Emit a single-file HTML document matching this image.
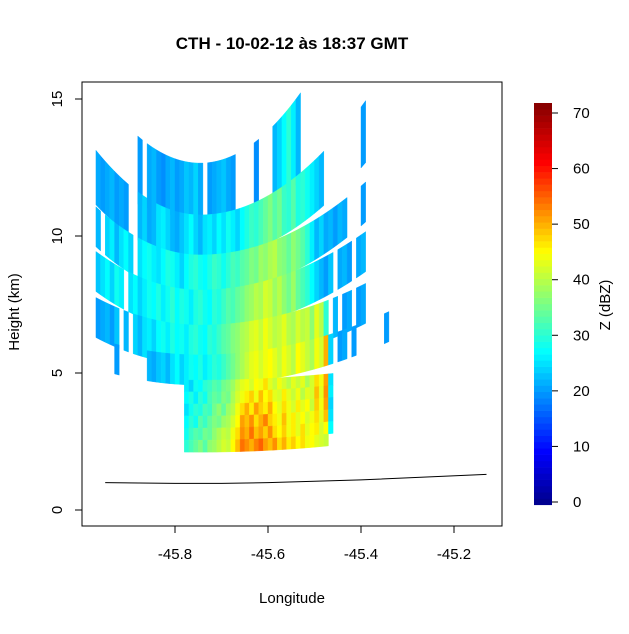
<!DOCTYPE html>
<html><head><meta charset="utf-8"><style>
body{margin:0;background:#fff}
svg text{font-family:"Liberation Sans",sans-serif}
</style></head><body>
<svg id="c" width="629" height="629" xmlns="http://www.w3.org/2000/svg">
<rect width="629" height="629" fill="#fff"/>
<text x="292" y="49" text-anchor="middle" font-size="17" font-weight="bold">CTH - 10-02-12 às 18:37 GMT</text>
<g id="marks"></g>
<rect x="82" y="82" width="420" height="444" fill="none" stroke="#000" stroke-width="1"/>
<g id="axes"></g>
<text x="292" y="603" text-anchor="middle" font-size="15">Longitude</text>
<text transform="translate(19,312) rotate(-90)" text-anchor="middle" font-size="15">Height (km)</text>
<g id="cbar"></g>
<text transform="translate(610,305) rotate(-90)" text-anchor="middle" font-size="15">Z (dBZ)</text>
</svg>
<script>
const xTicks=[-45.8,-45.6,-45.4,-45.2];
const yTicks=[0,5,10,15];
const cbTicks=[0,10,20,30,40,50,60,70];
const lon0=-45.97, lonStep=0.01, lonC=-45.746;
const bandTop=[12.66,10.77,9.31,8.03,6.75,5.66,4.74,4.31,3.87,3.43,2.99,2.55];
const bandThick=[2.0,1.64,1.46,1.46,1.46,1.1,0.44,0.44,0.44,0.44,0.44,0.44];
const bandK=[55,47,35,28,20,12,3,3,3,3,3,3];
const bandKb=[28,40,35,28,20,12,3,3,3,3,3,3];
const bandKRight=[1,0.7,0.6,0.6,0.6,0.8,1,1,1,1,1,1];
const bandStart=[9,0,0,0,0,4,19,19,19,19,19,19];
const s1=[20,0,21,22,20,19,21,22,20,21,23,22,24,21,0,20,21,22,23,21,20,0,0,0,0,19,0,0,0,22,24,27,30,26,22];
const s2=[21,20,21,22,20,21,20,0,0,22,24,21,22,25,26,24,22,21,23,25,27,24,22,25,26,24,27,25,28,26,24,27,29,31,30,32,34,36,33,35,31,30,33,29,30,28,26,24,22,0,0,0,0,0,0,0,0,20];
const s3=[22,0,24,26,22,25,27,24,0,25,27,28,26,25,27,29,28,26,24,27,29,30,28,27,29,31,30,28,30,32,31,33,34,36,35,38,37,39,40,37,36,34,37,35,33,30,26,22,24,21,22,20,22,21,0,0,0,20];
const s4=[23,25,27,24,28,26,0,25,27,24,26,28,27,29,26,28,30,27,29,28,26,29,30,28,27,30,29,31,33,32,34,35,37,38,40,39,42,41,38,40,37,35,38,34,32,30,27,24,22,20,23,0,21,22,20,0,21,22];
const s5=[20,21,22,20,23,0,22,0,24,22,25,26,24,27,28,26,29,27,28,26,29,30,28,27,30,29,31,33,34,36,37,39,40,42,43,41,44,42,40,41,43,40,39,42,40,41,37,43,40,30,0,22,0,20,21,0,20,21];
const s6=[20,0,0,0,0,0,0,22,21,23,24,22,25,27,24,26,28,27,29,26,28,30,29,31,33,35,37,39,41,43,44,42,44,45,43,41,44,42,40,45,43,41,39,44,42,50,24,0,20,21,0,20,0,0,0,0,0,0,20];
const s7=[26,24,28,27,30,31,33,32,35,36,38,41,43,44,42,45,44,47,43,41,44,42,40,43,41,43,39,42,47,44,51,25];
const s8=[27,29,26,30,28,32,34,33,36,35,39,42,44,46,48,44,49,45,47,43,42,46,43,41,44,40,43,42,49,43,52,26];
const s9=[25,28,30,29,32,31,35,37,34,38,40,44,47,50,46,51,48,46,50,45,43,47,44,42,46,43,45,41,48,44,51,24];
const s10=[27,30,28,33,31,34,36,35,38,39,42,45,51,49,52,47,50,53,48,46,44,49,44,46,43,45,42,44,47,43,49,25];
const s11=[28,31,33,32,35,34,37,39,41,40,44,47,52,50,54,49,51,48,52,47,45,48,44,46,43,47,43,45,46,42,45,27];
const s12=[30,32,34,36,33,37,38,40,42,41,45,49,54,52,50,53,55,51,49,52,47,50,46,48,45,47,44,45,43,42,41];
const bandVals=[s1,s2,s3,s4,s5,s6,s7,s8,s9,s10,s11,s12];
const groundLon=[-45.95,-45.8,-45.7,-45.6,-45.4,-45.13];
const groundH=[1.0,0.97,0.97,1.0,1.1,1.3];

const NS="http://www.w3.org/2000/svg";
const xS=l=>175+(l+45.8)*465;
const yS=h=>510-h*27.4;
const cbY=v=>502-v*(389/70);
function jet(v){
  const st=[[0,[0,0,143]],[9,[0,0,255]],[27,[0,255,255]],[45,[255,255,0]],[61,[255,0,0]],[72,[128,0,0]]];
  if(v<=st[0][0])return 'rgb(0,0,143)';
  for(let i=1;i<st.length;i++){if(v<=st[i][0]){const a=st[i-1],b=st[i],t=(v-a[0])/(b[0]-a[0]);
    return 'rgb('+a[1].map((c,j)=>Math.round(c+(b[1][j]-c)*t)).join(',')+')';}}
  return 'rgb(128,0,0)';
}
function el(t,a,p){const e=document.createElementNS(NS,t);for(const k in a)e.setAttribute(k,a[k]);p.appendChild(e);return e;}
const marks=document.getElementById('marks');
bandVals.forEach((vals,b)=>{
  vals.forEach((v,j)=>{
    if(!v)return;
    const i=bandStart[b]+j;
    const la=lon0+i*lonStep, lb=la+lonStep;
    const f=t=>(t>lonC?bandKRight[b]:1)*(t-lonC)**2;
    const dt=t=>bandTop[b]+bandK[b]*f(t);
    const db=t=>bandTop[b]-bandThick[b]+bandKb[b]*f(t);
    const pts=[[xS(la),yS(dt(la))],[xS(lb),yS(dt(lb))],[xS(lb),yS(db(lb))],[xS(la),yS(db(la))]];
    const p=el('polygon',{points:pts.map(q=>q[0].toFixed(2)+','+q[1].toFixed(2)).join(' '),fill:jet(v),stroke:jet(v),'stroke-width':0.4},marks);
    
    
  });
});
const gpath=groundLon.map((l,i)=>(i?'L':'M')+xS(l).toFixed(1)+','+yS(groundH[i]).toFixed(1)).join(' ');
const g=el('path',{d:gpath,fill:'none',stroke:'#000','stroke-width':1},marks);


const ax=document.getElementById('axes');
el('line',{x1:xS(xTicks[0]),x2:xS(xTicks[xTicks.length-1]),y1:526,y2:526,stroke:'#000'},ax);
xTicks.forEach(t=>{
  el('line',{x1:xS(t),x2:xS(t),y1:526,y2:533,stroke:'#000'},ax);
  const tx=el('text',{x:xS(t),y:559,'text-anchor':'middle','font-size':15},ax);
  tx.textContent=String(t);
  
  
});
yTicks.forEach(t=>{
  el('line',{x1:75,x2:82,y1:yS(t),y2:yS(t),stroke:'#000'},ax);
  const tx=el('text',{transform:`translate(62,${yS(t)}) rotate(-90)`,'text-anchor':'middle','font-size':15},ax);
  tx.textContent=t;
  
  
});
const cb=document.getElementById('cbar');
const nSeg=64, vmin=-0.5, vmax=71.8;
for(let s=0;s<nSeg;s++){
  const v0=vmin+(vmax-vmin)*s/nSeg, v1=vmin+(vmax-vmin)*(s+1)/nSeg;
  const r=el('rect',{x:534,width:18,y:cbY(v1),height:cbY(v0)-cbY(v1)+0.3,fill:jet((v0+v1)/2)},cb);
  
  
}
cbTicks.forEach(t=>{
  el('line',{x1:552,x2:558,y1:cbY(t),y2:cbY(t),stroke:'#000'},cb);
  const tx=el('text',{x:573,y:cbY(t)+5,'font-size':15},cb);
  tx.textContent=t;
  
  
});
</script>
</body></html>
